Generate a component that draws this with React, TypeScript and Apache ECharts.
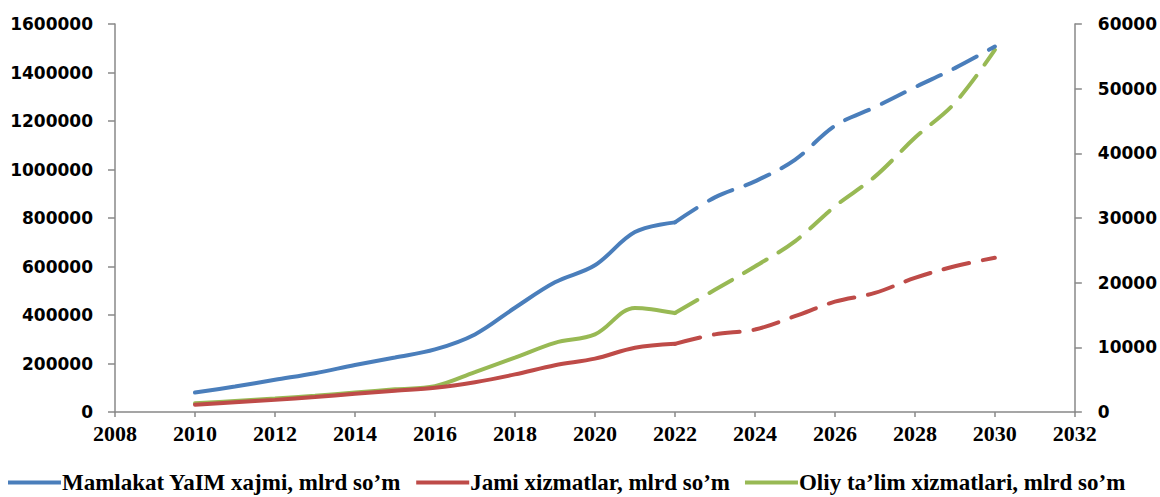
import React, { useEffect, useRef } from "react";
import * as echarts from "echarts";

const years = [2010, 2011, 2012, 2013, 2014, 2015, 2016, 2017, 2018, 2019, 2020, 2021, 2022, 2023, 2024, 2025, 2026, 2027, 2028, 2029, 2030];
// Mamlakat YaIM xajmi, mlrd so'm (left axis)
const gdp = [80000, 105000, 133000, 160000, 194000, 225000, 258000, 320000, 430000, 535000, 605000, 742000, 782000, 885000, 951000, 1040000, 1180000, 1257000, 1339000, 1418000, 1507000];
// Jami xizmatlar, mlrd so'm (left axis)
const services = [30000, 40000, 50000, 62000, 75000, 88000, 100000, 123000, 155000, 193000, 220000, 265000, 281000, 320000, 340000, 395000, 455000, 491000, 553000, 601000, 636000];
// Oliy ta'lim xizmatlari, mlrd so'm (right axis)
const higherEd = [1340, 1700, 2070, 2500, 3000, 3500, 4000, 6170, 8400, 10700, 12000, 16100, 15300, 18900, 22500, 26400, 31800, 36400, 42400, 47800, 56000];
const lastActualYear = 2022;

const names = [
  "Mamlakat YaIM xajmi, mlrd so’m",
  "Jami xizmatlar, mlrd so’m",
  "Oliy ta’lim xizmatlari, mlrd so’m",
];
const colors = ["#4A7EBB", "#BE4B48", "#98B954"];

export default function App() {
  const ref = useRef<HTMLDivElement>(null);
  useEffect(() => {
    document.body.style.margin = "0";
    if (!ref.current) return;
    const chart = echarts.init(ref.current, null, { renderer: "svg" });
    const splitIdx = years.indexOf(lastActualYear);
    const all = [gdp, services, higherEd];
    const series: any[] = [];
    all.forEach((arr, i) => {
      const pairs = years.map((y, k) => [y, arr[k]]);
      series.push({
        name: names[i],
        type: "line",
        yAxisIndex: i === 2 ? 1 : 0,
        data: pairs.slice(0, splitIdx + 1),
        smooth: 0.35,
        showSymbol: false,
        symbol: "none",
        lineStyle: { color: colors[i], width: 4, cap: "round" },
        itemStyle: { color: colors[i] },
        z: 3 + (2 - i),
      });
      series.push({
        name: names[i] + " (prognoz)",
        type: "line",
        yAxisIndex: i === 2 ? 1 : 0,
        data: pairs.slice(splitIdx),
        smooth: 0.35,
        showSymbol: false,
        symbol: "none",
        lineStyle: { color: colors[i], width: 4, type: [26, 14], cap: "round" },
        itemStyle: { color: colors[i] },
        z: 3 + (2 - i),
      });
    });
    const axisLineStyle = { color: "#888888", width: 1.5 };
    const plain = (v: number) => String(v);
    chart.setOption({
      animation: false,
      backgroundColor: "#ffffff",
      grid: { left: 115, right: 85, top: 24, bottom: 85, containLabel: false },
      legend: {
        data: names.map((n, i) => ({ name: n, itemStyle: { color: colors[i] } })),
        left: 8,
        top: 471,
        padding: 0,
        icon: "rect",
        itemWidth: 53,
        itemHeight: 4,
        itemGap: 15,
        textStyle: { fontFamily: "Liberation Serif", fontWeight: "bold", fontSize: 23, lineHeight: 23, color: "#000", padding: [0, 0, 0, -4] },
      },
      xAxis: {
        type: "value",
        min: 2008,
        max: 2032,
        interval: 2,
        axisLine: { show: true, lineStyle: axisLineStyle },
        axisTick: { show: true, length: 5, lineStyle: axisLineStyle },
        splitLine: { show: false },
        axisLabel: { fontFamily: "Liberation Serif", fontWeight: "bold", fontSize: 22, color: "#000", margin: 10, formatter: plain },
      },
      yAxis: [
        {
          type: "value",
          min: 0,
          max: 1600000,
          interval: 200000,
          axisLine: { show: true, lineStyle: axisLineStyle },
          axisTick: { show: true, length: 7, lineStyle: axisLineStyle },
          splitLine: { show: false },
          axisLabel: { fontFamily: "DejaVu Sans", fontWeight: "bold", fontSize: 17, color: "#000", margin: 22, formatter: plain },
        },
        {
          type: "value",
          min: 0,
          max: 60000,
          interval: 10000,
          position: "right",
          axisLine: { show: true, lineStyle: axisLineStyle },
          axisTick: { show: true, length: 7, lineStyle: axisLineStyle },
          splitLine: { show: false },
          axisLabel: { fontFamily: "DejaVu Sans", fontWeight: "bold", fontSize: 17, color: "#000", margin: 23, formatter: plain },
        },
      ],
      series,
    });
    return () => chart.dispose();
  }, []);
  return <div ref={ref} style={{ width: 1160, height: 497 }} />;
}
